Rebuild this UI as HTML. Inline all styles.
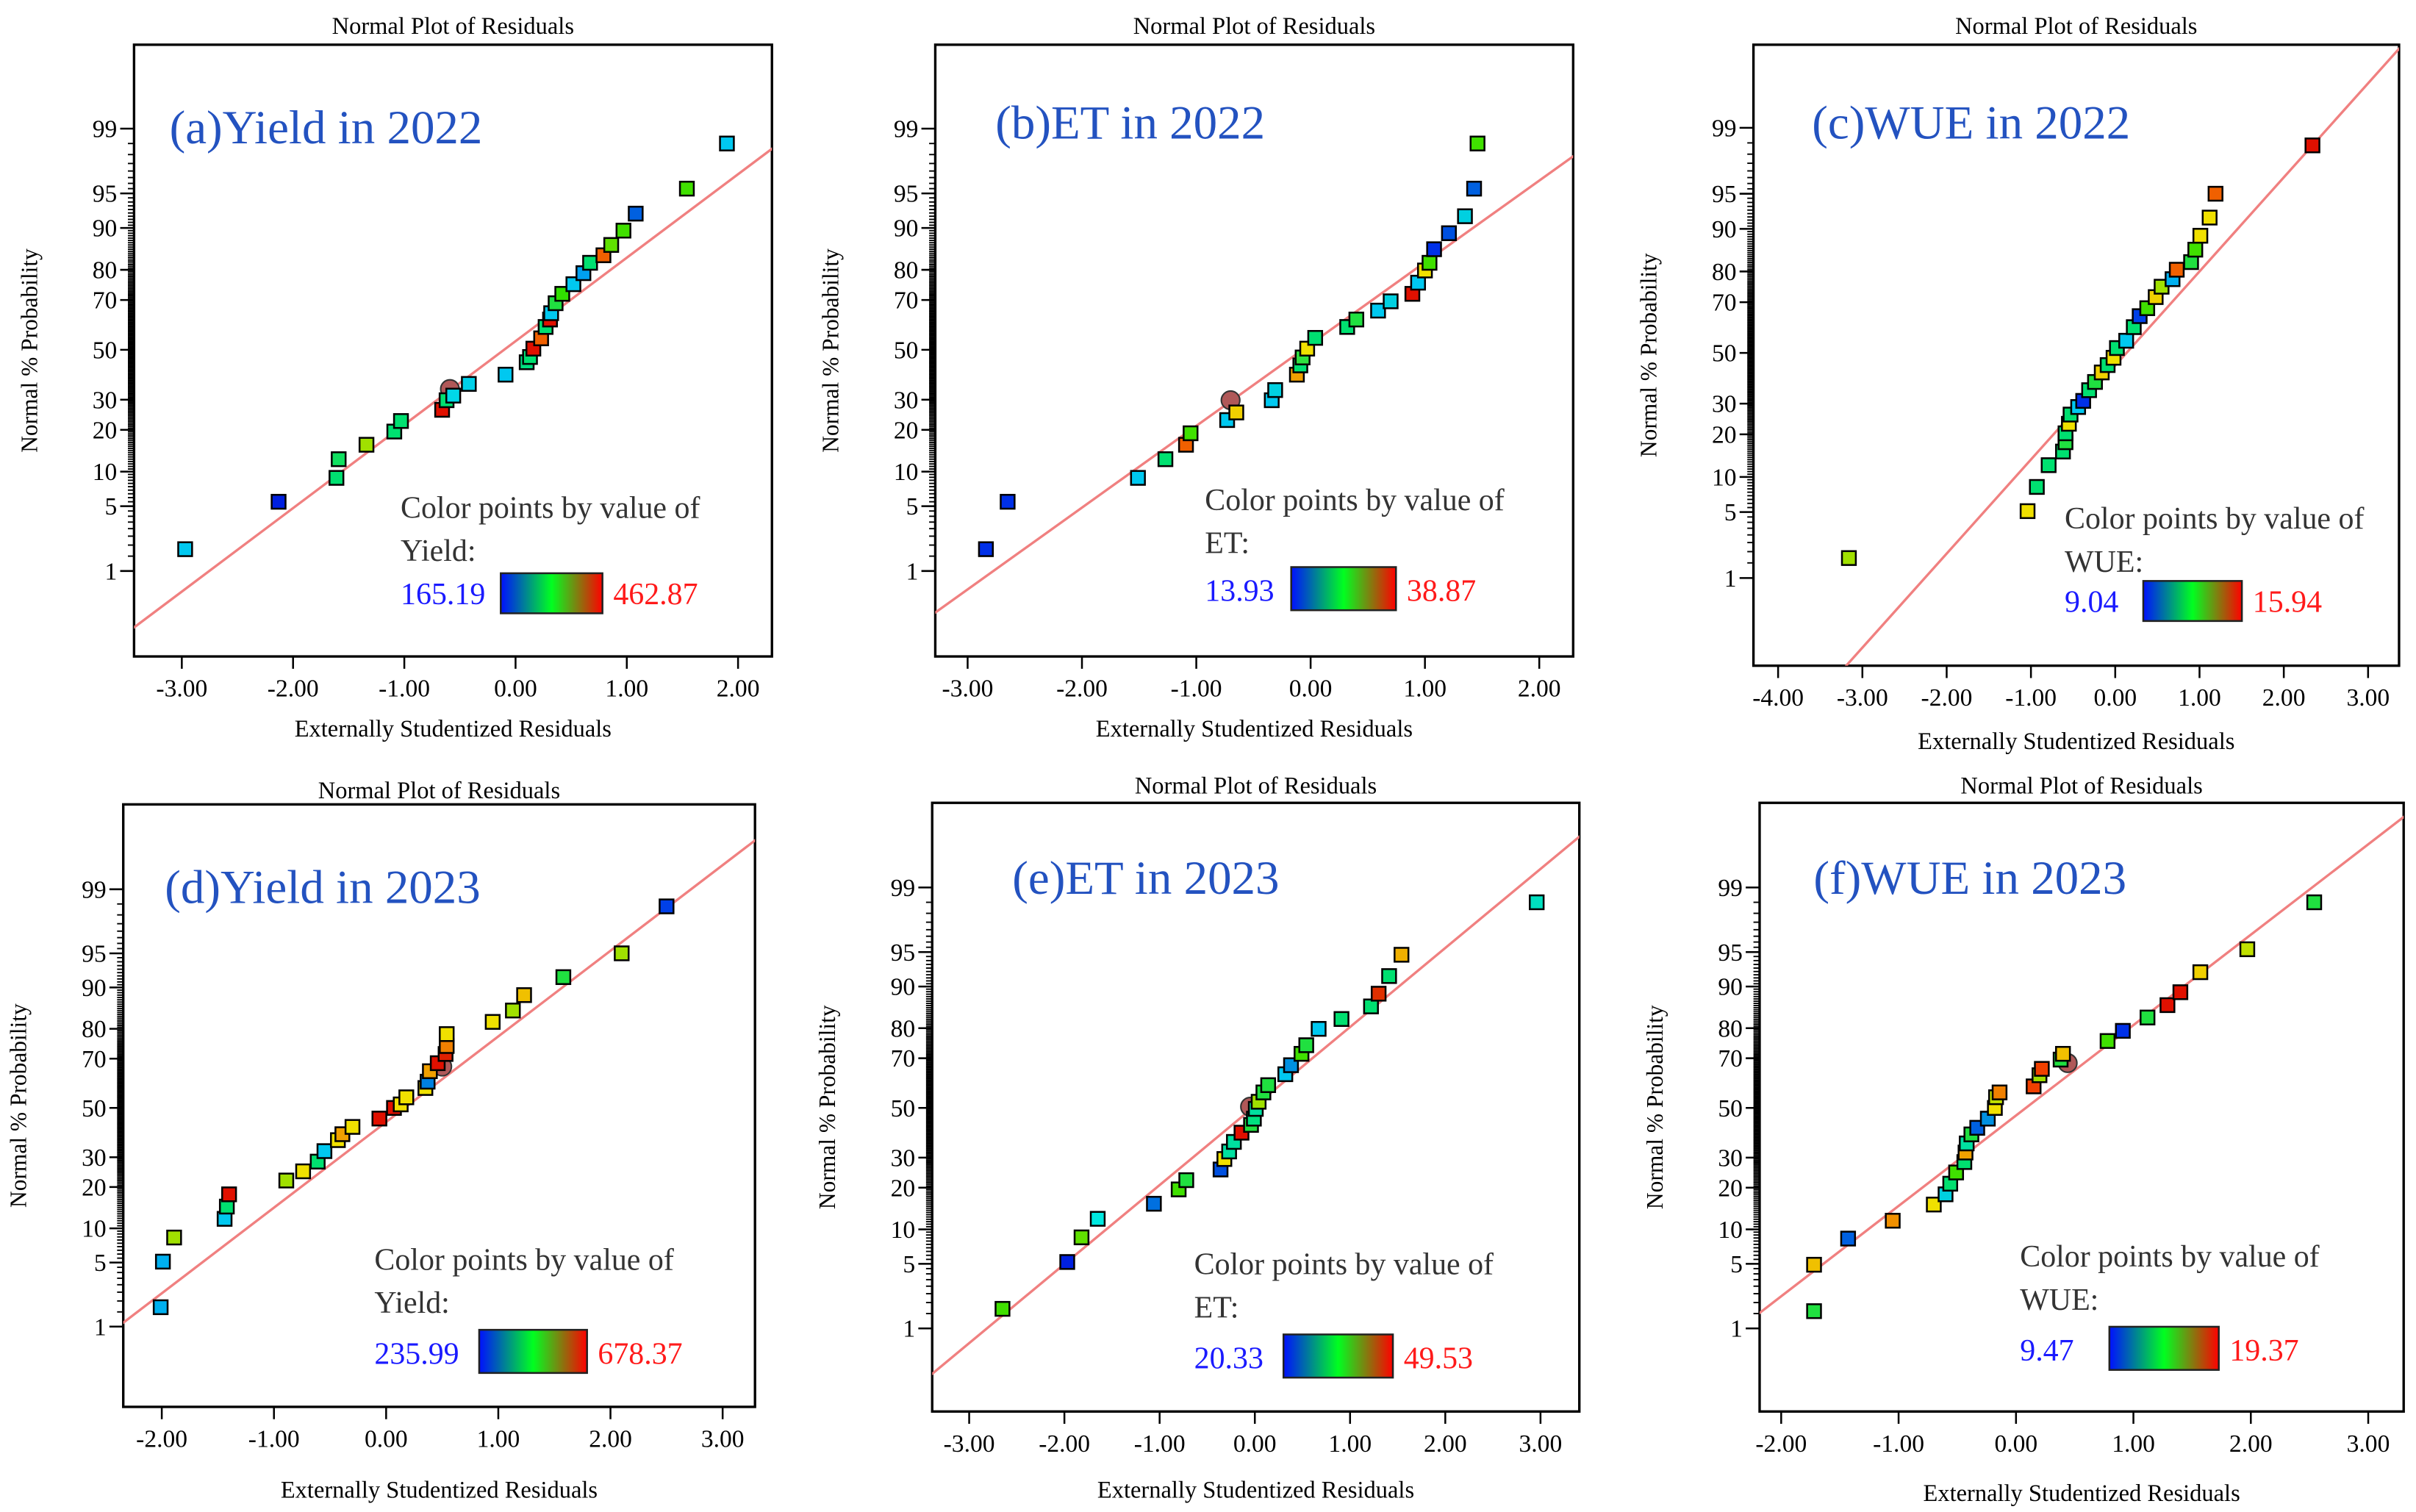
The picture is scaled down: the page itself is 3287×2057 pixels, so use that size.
<!DOCTYPE html>
<html><head><meta charset="utf-8"><style>
html,body{margin:0;padding:0;background:#fff;}
svg{display:block;font-family:"Liberation Serif",serif;}
</style></head><body>
<svg id="fig" width="3287" height="2057" viewBox="0 0 1568 981.2" xmlns="http://www.w3.org/2000/svg">
<defs>
<linearGradient id="grad" x1="0" x2="1" y1="0" y2="0">
<stop offset="0" stop-color="#0010ff"/><stop offset="0.5" stop-color="#00ff20"/><stop offset="1" stop-color="#ff0000"/>
</linearGradient>
</defs>
</svg>
<script>
// ---- data (x residual, normal % probability, color) ----
const aX=[-2.97,-2.13,-1.61,-1.59,-1.34,-1.09,-1.03,-0.66,-0.62,-0.56,-0.42,-0.09,0.10,0.13,0.16,0.23,0.27,0.31,0.32,0.36,0.42,0.52,0.61,0.67,0.79,0.86,0.97,1.08,1.54,1.90];
const aP=[1.8,5.5,8.9,12.5,15.9,19.5,22.7,26.4,29.8,31.5,36,39.7,44.8,47,50.5,54.8,59.5,62.5,65,68.8,72.2,75.5,79,82,84,86.5,89.5,92.4,95.5,98.5];
const aC=['#00c8f0','#0020e0','#00e070','#10e060','#a0e000','#00e070','#00e070','#e01000','#00e070','#00d8e8','#00d0e8','#00c8f0','#00e080','#00e070','#e01000','#f06000','#00e070','#e01000','#00c8f0','#20e040','#30e000','#00c8f0','#00a0f0','#00e070','#f06000','#60e000','#40e000','#0060e0','#40e000','#00c8f0'];
const aCircle=[-0.59,34];
const bX=[-2.84,-2.65,-1.51,-1.27,-1.09,-1.05,-0.73,-0.65,-0.34,-0.31,-0.12,-0.09,-0.07,-0.03,0.04,0.32,0.40,0.59,0.70,0.89,0.94,1.00,1.04,1.08,1.21,1.35,1.43,1.46];
const bP=[1.8,5.5,8.9,12.5,15.9,19,23,25.5,29.8,33.6,39.7,43.5,46.8,50.5,55,59.5,62.5,66,69.5,72.2,76,79.8,82,85.5,89,92,95.5,98.5];
const bC=['#0030e8','#0030e8','#00c8f0','#00e070','#f06000','#40e000','#00c8f0','#f0d000','#00c8f0','#00d0e0','#f0a000','#00e070','#30e040','#f0e000','#00e070','#00e070','#20e040','#00c8f0','#00d0e0','#e01000','#00c8f0','#f0e000','#40e000','#0030e8','#0050e0','#00d0e0','#0060e0','#40e000'];
const bCircle=[-0.70,29.8];
const cX=[-3.16,-1.04,-0.93,-0.79,-0.62,-0.59,-0.59,-0.55,-0.53,-0.44,-0.38,-0.31,-0.24,-0.16,-0.09,-0.02,0.02,0.13,0.22,0.29,0.38,0.48,0.55,0.68,0.73,0.90,0.95,1.01,1.12,1.19,2.34];
const cP=[1.7,5.1,8.3,12.3,15.4,17.8,20.3,23.2,26.2,28.8,31,35,38.2,42,45,48,52,55,60.5,64.8,67.8,71.8,75.3,77.7,80.5,82.6,85.7,88.7,91.9,95,98.4];
const cC=['#a0e000','#f0e000','#00e070','#00e070','#00e070','#20e040','#00e070','#f0e000','#00e070','#00c8f0','#0030e8','#00e070','#20e040','#f0d000','#00e070','#f0e000','#00e070','#00c8f0','#00e070','#0040e8','#40e000','#f0d000','#a0e000','#00b0f0','#f06000','#20e040','#40e000','#f0e000','#f0e000','#f06000','#e01000'];
const cCircle=null;
const dX=[-2.01,-1.99,-1.89,-1.44,-1.42,-1.40,-0.89,-0.74,-0.61,-0.55,-0.43,-0.39,-0.30,-0.06,0.07,0.13,0.18,0.35,0.37,0.39,0.46,0.53,0.54,0.54,0.95,1.13,1.23,1.58,2.10,2.50];
const dP=[1.7,5.1,8.4,11.9,14.7,17.9,22,25,28.4,32.3,36.6,39,42,45.5,50,51.5,54.5,58.4,61,65.2,68.3,71.7,74.5,78.4,82,85,88.5,91.8,95,98.4];
const dC=['#00b0f0','#00b0f0','#a0e000','#00c8f0','#00e070','#e01000','#a0e000','#f0e000','#00e070','#00c8f0','#f0e000','#f0a000','#f0e000','#e01000','#e01000','#f0e000','#f0e000','#f0e000','#0080e0','#f0a000','#e01000','#e02000','#f08000','#f0e000','#f0e000','#a0e000','#f0c000','#20e040','#a0e000','#0040e8'];
const dCircle=[0.50,67];
const eX=[-2.65,-1.97,-1.82,-1.65,-1.06,-0.80,-0.72,-0.36,-0.32,-0.27,-0.22,-0.14,-0.04,-0.01,0.01,0.04,0.09,0.14,0.32,0.38,0.49,0.54,0.67,0.91,1.22,1.30,1.41,1.54,2.96];
const eP=[1.7,5.2,8.6,12.1,15.6,19.5,22.3,25.8,29.5,32.3,36,39.7,42.9,45.5,49.6,52.6,56.5,59.5,63.9,67.4,71.6,74.6,79.8,82.6,85.8,88.6,91.8,94.7,98.5];
const eC=['#40e000','#0020e0','#60e000','#00e8e0','#0070e0','#40e000','#20e040','#0050e0','#f0e000','#00e0a0','#00e0a0','#e01000','#20e040','#00e080','#00e0a0','#a0e000','#20e040','#20e040','#00c8f0','#0090e0','#40e000','#20e040','#00c8f0','#00e070','#00e070','#e03000','#00e070','#f0b000','#00e0c0'];
const eCircle=[-0.05,50.5];
const fX=[-1.72,-1.72,-1.43,-1.05,-0.70,-0.60,-0.56,-0.51,-0.44,-0.43,-0.42,-0.38,-0.33,-0.24,-0.18,-0.17,-0.14,0.15,0.20,0.22,0.38,0.40,0.78,0.91,1.12,1.29,1.40,1.57,1.97,2.54];
const fP=[1.6,4.9,8.4,11.7,15.4,18.1,21.2,24.8,28.4,31.9,35.4,39,41.7,45.5,50,54.5,56.5,59,63.5,66,69.5,71.6,76,79.2,83,86.1,88.9,92.4,95.3,98.5];
const fC=['#20e040','#f0c000','#0060e0','#f09000','#f0e000','#00d0e0','#00e070','#40e000','#00e070','#f0a000','#00e0a0','#20e040','#0060e0','#0090e0','#f0e000','#c0e000','#f08000','#f04000','#a0e000','#f04000','#20e040','#f0c000','#40e000','#0030e8','#20e040','#e01000','#e01000','#f0d000','#c0e000','#20e040'];
const fCircle=[0.44,68.2];
// fitted line: z = intercept + slope*x
const lineIntercept=[0.091,0.06,-0.13,-0.15,0.02,-0.08];
const lineSlope=[0.878,0.860,0.972,0.911,0.834,0.954];
const yTickLabels=[1,5,10,20,30,50,70,80,90,95,99];
const panelLabels=['(a)Yield in 2022','(b)ET in 2022','(c)WUE in 2022','(d)Yield in 2023','(e)ET in 2023','(f)WUE in 2023'];
const varNames=['Yield:','ET:','WUE:','Yield:','ET:','WUE:'];
const minVals=['165.19','13.93','9.04','235.99','20.33','9.47'];
const maxVals=['462.87','38.87','15.94','678.37','49.53','19.37'];
const xTickVals=[[-3,-2,-1,0,1,2],[-3,-2,-1,0,1,2],[-4,-3,-2,-1,0,1,2,3],[-2,-1,0,1,2,3],[-3,-2,-1,0,1,2,3],[-2,-1,0,1,2,3]];

// ---- layout (positions) ----
const layout=[
 {fr:[87,29,501,426],t0:-3,t0px:118,unit:72.2,y50:227,sig:61.7,lab:[110,93],leg:[260,336],bar:[325,372,66,26],ttl:17,xt:474},
 {fr:[607,29,1021,426],t0:-3,t0px:628,unit:74.2,y50:227,sig:61.7,lab:[646,90],leg:[782,331],bar:[838,368,68,28],ttl:17,xt:474},
 {fr:[1138,29,1557,432],t0:-4,t0px:1154,unit:54.7,y50:229,sig:62.8,lab:[1176,90],leg:[1340,343],bar:[1391,377,64,26],ttl:17,xt:482},
 {fr:[80,522,490,913],t0:-2,t0px:105,unit:72.8,y50:719,sig:61.0,lab:[107,586],leg:[243,824],bar:[311,863,70,28],ttl:513,xt:968},
 {fr:[605,521,1025,916],t0:-3,t0px:629,unit:61.8,y50:719,sig:61.5,lab:[657,580],leg:[775,827],bar:[833,866,71,28],ttl:510,xt:968},
 {fr:[1142,521,1560,916],t0:-2,t0px:1156,unit:76.2,y50:719,sig:61.5,lab:[1177,580],leg:[1311,822],bar:[1369,861,71,28],ttl:510,xt:970}
];
const DX=[aX,bX,cX,dX,eX,fX],DP=[aP,bP,cP,dP,eP,fP],DC=[aC,bC,cC,dC,eC,fC],DCir=[aCircle,bCircle,cCircle,dCircle,eCircle,fCircle];

function invNorm(p){
 const a=[-39.69683028665376,220.9460984245205,-275.9285104469687,138.357751867269,-30.66479806614716,2.506628277459239];
 const b=[-54.47609879822406,161.5858368580409,-155.6989798598866,66.80131188771972,-13.28068155288572];
 const c=[-0.007784894002430293,-0.3223964580411365,-2.400758277161838,-2.549732539343734,4.374664141464968,2.938163982698783];
 const d=[0.007784695709041462,0.3224671290700398,2.445134137142996,3.754408661907416];
 const pl=0.02425;let q,r;
 if(p<pl){q=Math.sqrt(-2*Math.log(p));return (((((c[0]*q+c[1])*q+c[2])*q+c[3])*q+c[4])*q+c[5])/((((d[0]*q+d[1])*q+d[2])*q+d[3])*q+1);}
 if(p>1-pl){q=Math.sqrt(-2*Math.log(1-p));return -(((((c[0]*q+c[1])*q+c[2])*q+c[3])*q+c[4])*q+c[5])/((((d[0]*q+d[1])*q+d[2])*q+d[3])*q+1);}
 q=p-0.5;r=q*q;return (((((a[0]*r+a[1])*r+a[2])*r+a[3])*r+a[4])*r+a[5])*q/(((((b[0]*r+b[1])*r+b[2])*r+b[3])*r+b[4])*r+1);
}
const NS='http://www.w3.org/2000/svg';
const svg=document.getElementById('fig');
function mk(tag,attrs,parent,txt){const e=document.createElementNS(NS,tag);for(const k in attrs)e.setAttribute(k,attrs[k]);if(txt!==undefined)e.textContent=txt;parent.appendChild(e);return e;}

layout.forEach((L,i)=>{
 const g=mk('g',{},svg);
 
 
 const [x0,y0,x1,y1]=L.fr;
 const sx=v=>L.t0px+(v-L.t0)*L.unit;
 const sz=z=>L.y50-z*L.sig;
 const sp=p=>sz(invNorm(p/100));
 const cx=(x0+x1)/2;
 const cp=mk('clipPath',{id:'clip'+i},g);mk('rect',{x:x0,y:y0,width:x1-x0,height:y1-y0},cp);
 const t=mk('text',{x:cx,y:L.ttl+5,'text-anchor':'middle','font-size':15.5},g,'Normal Plot of Residuals');
 
 const fr=mk('rect',{x:x0,y:y0,width:x1-x0,height:y1-y0,fill:'none',stroke:'#000','stroke-width':1.6},g);
 
 // y ticks
 for(let p=1;p<=99;p+=0.5){const y=sp(p);const major=yTickLabels.includes(p);
  const tk=mk('line',{x1:x0-(major?9:4),x2:x0,y1:y,y2:y,stroke:'#000','stroke-width':major?1.2:0.9},g);
  }
 yTickLabels.forEach(p=>{const lt=mk('text',{x:x0-11,y:sp(p)+5.5,'text-anchor':'end','font-size':16},g,String(p));
  });
 const yl=mk('text',{x:0,y:0,'text-anchor':'middle','font-size':15,transform:`translate(${x0-63},${(y0+y1)/2}) rotate(-90)`},g,'Normal % Probability');
 
 // x ticks
 xTickVals[i].forEach(v=>{const x=sx(v);
  const tk=mk('line',{x1:x,x2:x,y1:y1,y2:y1+8,stroke:'#000','stroke-width':1.2},g);
  
  const lt=mk('text',{x:x,y:y1+26,'text-anchor':'middle','font-size':16},g,v.toFixed(2));
  });
 const xl=mk('text',{x:cx,y:L.xt+4,'text-anchor':'middle','font-size':15.5},g,'Externally Studentized Residuals');
 
 // fitted line
 const xa=x0-40, xb=x1+40;
 const va=L.t0+(xa-L.t0px)/L.unit, vb=L.t0+(xb-L.t0px)/L.unit;
 const ln=mk('line',{x1:xa,y1:sz(lineIntercept[i]+lineSlope[i]*va),x2:xb,y2:sz(lineIntercept[i]+lineSlope[i]*vb),stroke:'#f08080','stroke-width':1.6,'clip-path':`url(#clip${i})`},g);
 
 // panel label
 const pl=mk('text',{x:L.lab[0],y:L.lab[1],'font-size':31,fill:'#2352c0'},g,panelLabels[i]);
 
 // circle marker
 const C=DCir[i];
 if(C){const c=mk('circle',{cx:sx(C[0]),cy:sp(C[1]),r:6,fill:'#b05858',stroke:'#333','stroke-width':1},g);
  }
 // points
 DX[i].forEach((xv,j)=>{const px=sx(xv),py=sp(DP[i][j]);
  const r=mk('rect',{x:px-4.5,y:py-4.5,width:9,height:9,fill:DC[i][j],stroke:'#000','stroke-width':1.2},g);
  });
 // legend
 const [lx,ly]=L.leg;
 const l1=mk('text',{x:lx,y:ly,'font-size':20,fill:'#333'},g,'Color points by value of');
 
 const l2=mk('text',{x:lx,y:ly+28,'font-size':20,fill:'#333'},g,varNames[i]);
 
 const [bx,by,bw,bh]=L.bar;
 const l3=mk('text',{x:lx,y:by+bh-6,'font-size':20,fill:'#1a1aff'},g,minVals[i]);
 
 const br=mk('rect',{x:bx,y:by,width:bw,height:bh,fill:'url(#grad)',stroke:'#222','stroke-width':1.2},g);
 
 const l4=mk('text',{x:bx+bw+7,y:by+bh-6,'font-size':20,fill:'#ff1a1a'},g,maxVals[i]);
 
});
</script>
</body></html>
